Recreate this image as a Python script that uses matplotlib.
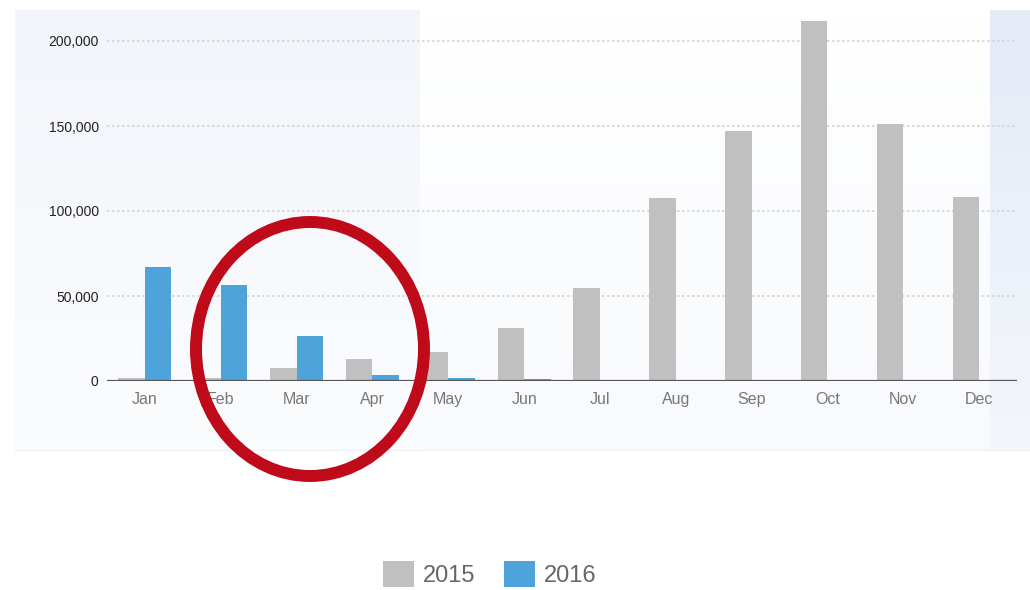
import matplotlib.pyplot as plt
import numpy as np
from matplotlib.patches import Rectangle, Ellipse
from matplotlib.ticker import FuncFormatter

plt.rcParams['font.family'] = ['Liberation Sans', 'DejaVu Sans']

# monthly values
months = ['Jan', 'Feb', 'Mar', 'Apr', 'May', 'Jun', 'Jul', 'Aug', 'Sep', 'Oct', 'Nov', 'Dec']
sales_2015 = [1500, 2000, 7500, 13000, 17000, 31000, 54500, 107500, 147000, 212000, 151000, 108500]
sales_2016 = [67000, 56500, 26500, 3500, 1500, 1200, 0, 0, 0, 0, 0, 0]
years = ['2015', '2016']
colors = ['#c0c0c0', '#4da3da']

fig = plt.figure(figsize=(10.3, 5.9), dpi=100)

# soft background panels behind the chart
bg = fig.add_axes([0, 0, 1, 1], zorder=-1)
bg.set_xlim(0, 1030)
bg.set_ylim(590, 0)
bg.axis('off')
grad = np.linspace(0, 1, 100).reshape(-1, 1)
bg.imshow(grad, extent=(15, 420, 450, 10), cmap=plt.matplotlib.colors.LinearSegmentedColormap.from_list(
    'l', ['#f2f5fa', '#fbfcfe']), aspect='auto')
bg.imshow(grad, extent=(420, 990, 450, 10), cmap=plt.matplotlib.colors.LinearSegmentedColormap.from_list(
    'm', ['#ffffff', '#f8fafd']), aspect='auto')
bg.imshow(grad, extent=(990, 1030, 450, 10), cmap=plt.matplotlib.colors.LinearSegmentedColormap.from_list(
    'r', ['#e4ebf7', '#f3f6fb']), aspect='auto')
bg.plot([15, 1030], [450, 450], color='#eef0f4', lw=1)

ax = fig.add_axes([107 / 1030, 1 - 381 / 590, 910 / 1030, 365.5 / 590])
ax.patch.set_alpha(0)

x = np.arange(len(months))
w = 0.35
ax.bar(x - w / 2, sales_2015, width=w, color=colors[0], label=years[0], zorder=2)
ax.bar(x + w / 2, sales_2016, width=w, color=colors[1], label=years[1], zorder=2)

ax.set_xlim(-0.5, len(months) - 0.5)
ax.set_ylim(0, 215000)
ax.set_yticks([0, 50000, 100000, 150000, 200000])
ax.yaxis.set_major_formatter(FuncFormatter(lambda v, p: f'{int(v):,}'))
ax.set_xticks(x)
ax.set_xticklabels(months)
ax.grid(axis='y', color='#d4d4d4', linestyle=(0, (1.5, 1.5)), linewidth=1.2, zorder=1)
ax.axhline(0, color='#555555', lw=1.6, zorder=3)
for s in ax.spines.values():
    s.set_visible(False)
ax.tick_params(axis='both', length=0)
ax.tick_params(axis='y', labelsize=10, labelcolor='#222222', pad=6)
ax.tick_params(axis='x', labelsize=11.5, labelcolor='#777777', pad=8)

fig.legend(loc='center', bbox_to_anchor=(490 / 1030, 1 - 574 / 590), ncol=2, frameon=False,
           fontsize=17, labelcolor='#666666', handlelength=1.3, handleheight=1.3,
           handletextpad=0.4, columnspacing=1.2)

# red circle highlight
over = fig.add_axes([0, 0, 1, 1], zorder=10)
over.set_xlim(0, 1030)
over.set_ylim(590, 0)
over.axis('off')
over.patch.set_alpha(0)
over.add_patch(Ellipse((310, 349), 228, 254, fill=False, edgecolor='#bf0a1a', linewidth=8.6))

fig.savefig('out.png', dpi=100)
